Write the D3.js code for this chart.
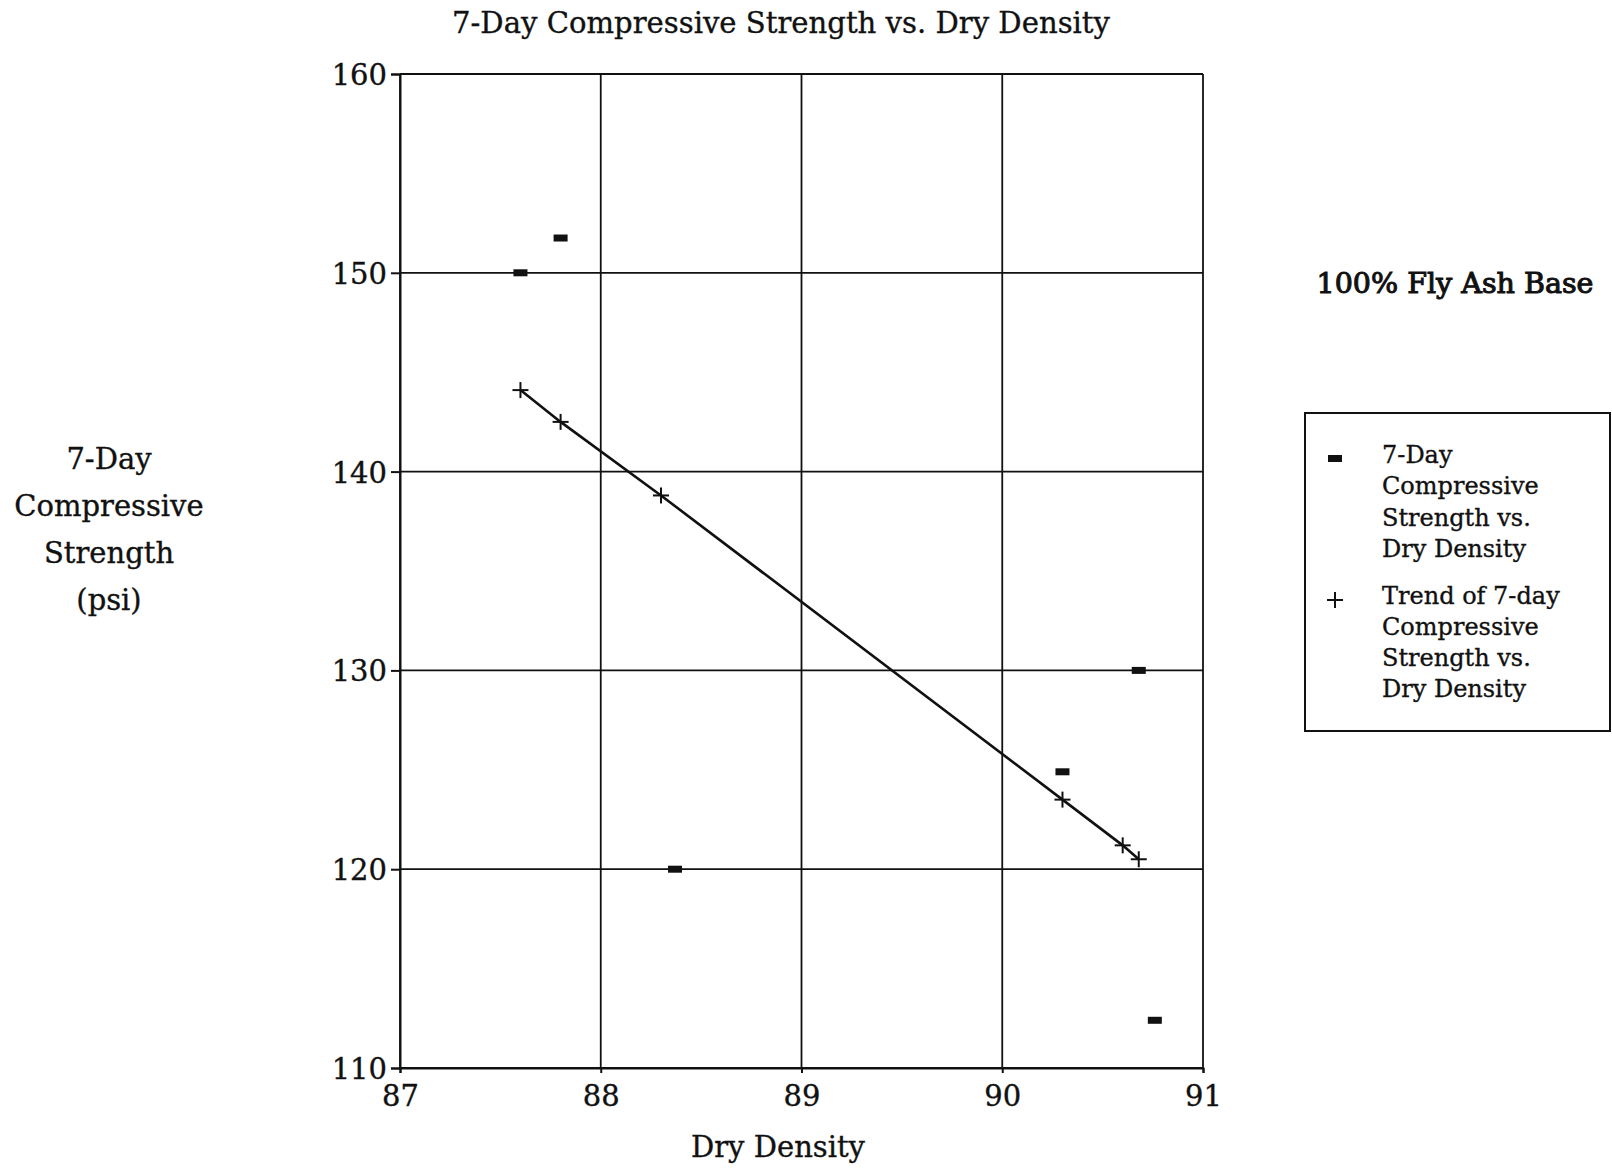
<!DOCTYPE html>
<html>
<head>
<meta charset="utf-8">
<script src="https://cdn.jsdelivr.net/npm/d3@7"></script>
<style>
    body { margin: 0; background: #fff; }
    svg text { font-family: "DejaVu Serif", "Liberation Serif", serif; fill: #111; stroke: #111; stroke-width: 0.35px; }
</style>
</head>
<body>
<svg id="chart" width="1612" height="1168"></svg>
<script>
// datos medidos (densidad seca vs resistencia a 7 dias)
var densidad = [87.6, 87.8, 88.37, 90.3, 90.68, 90.76];
var resistencia = [150, 151.75, 120, 124.9, 130, 112.4];

// puntos de la tendencia
var densidadTendencia = [87.6, 87.8, 88.3, 90.3, 90.6, 90.68];
var resistenciaTendencia = [144.1, 142.5, 138.8, 123.5, 121.2, 120.5];

var ticksX = [87, 88, 89, 90, 91];
var ticksY = [110, 120, 130, 140, 150, 160];

var tituloEjeY = ["7-Day", "Compressive", "Strength", "(psi)"];
var leyenda1 = ["7-Day", "Compressive", "Strength vs.", "Dry Density"];
var leyenda2 = ["Trend of 7-day", "Compressive", "Strength vs.", "Dry Density"];

var svg = d3.select("#chart");

var x = d3.scaleLinear().domain([87, 91]).range([400, 1203]);
var y = d3.scaleLinear().domain([110, 160]).range([1068, 74]);

// Rejilla
svg.append("g")
    .selectAll("line.gx")
    .data(ticksX)
    .enter().append("line")
    .attr("x1", d => x(d)).attr("x2", d => x(d))
    .attr("y1", y(160)).attr("y2", y(110))
    .style("stroke", "#111").style("stroke-width", 1.8);

svg.append("g")
    .selectAll("line.gy")
    .data(ticksY)
    .enter().append("line")
    .attr("x1", x(87)).attr("x2", x(91))
    .attr("y1", d => y(d)).attr("y2", d => y(d))
    .style("stroke", "#111").style("stroke-width", 1.8);

// Ejes
var ejeY = svg.append("g")
    .attr("transform", "translate(" + x(87) + ",0)")
    .call(d3.axisLeft(y).tickValues(ticksY).tickSize(9).tickPadding(4).tickFormat(d3.format("d")));
ejeY.select(".domain").style("stroke", "#111").style("stroke-width", 2);
ejeY.selectAll(".tick line").style("stroke", "#111").style("stroke-width", 2);
ejeY.selectAll("text").style("font-size", "29px").attr("dy", "0.36em");

var ejeX = svg.append("g")
    .attr("transform", "translate(0," + y(110) + ")")
    .call(d3.axisBottom(x).tickValues(ticksX).tickSize(5).tickPadding(12).tickFormat(d3.format("d")));
ejeX.select(".domain").style("stroke", "#111").style("stroke-width", 2);
ejeX.selectAll(".tick line").style("stroke", "#111").style("stroke-width", 2);
ejeX.selectAll("text").style("font-size", "29px");

// Linea de tendencia
var puntosT = densidadTendencia.map((d, i) => [d, resistenciaTendencia[i]]);
svg.append("path")
    .datum(puntosT)
    .attr("d", d3.line().x(d => x(d[0])).y(d => y(d[1])))
    .style("fill", "none")
    .style("stroke", "#111")
    .style("stroke-width", 2.6);

// Marcadores "+" de la tendencia
var cruces = svg.append("g").selectAll("g")
    .data(puntosT)
    .enter().append("g")
    .attr("transform", d => "translate(" + x(d[0]) + "," + y(d[1]) + ")");
cruces.append("line").attr("x1", -8).attr("x2", 8).attr("y1", 0).attr("y2", 0)
    .style("stroke", "#111").style("stroke-width", 2);
cruces.append("line").attr("x1", 0).attr("x2", 0).attr("y1", -8).attr("y2", 8)
    .style("stroke", "#111").style("stroke-width", 2);

// Marcadores de datos (rectangulos)
svg.append("g").selectAll("rect")
    .data(densidad)
    .enter().append("rect")
    .attr("x", d => x(d) - 7)
    .attr("y", (d, i) => y(resistencia[i]) - 3.5)
    .attr("width", 14)
    .attr("height", 7)
    .style("fill", "#111");

// Titulo
svg.append("text")
    .attr("x", 781).attr("y", 33)
    .attr("text-anchor", "middle")
    .attr("textLength", 658).attr("lengthAdjust", "spacingAndGlyphs")
    .style("font-size", "30px")
    .text("7-Day Compressive Strength vs. Dry Density");

// Titulo eje X
svg.append("text")
    .attr("x", 778).attr("y", 1157)
    .attr("text-anchor", "middle")
    .style("font-size", "29px")
    .text("Dry Density");

// Titulo eje Y
svg.append("g").selectAll("text")
    .data(tituloEjeY)
    .enter().append("text")
    .attr("x", 109)
    .attr("y", (d, i) => 469 + i * 47)
    .attr("text-anchor", "middle")
    .style("font-size", "29px")
    .text(d => d);

// Subtitulo
svg.append("text")
    .attr("x", 1455).attr("y", 293)
    .attr("text-anchor", "middle")
    .attr("textLength", 277).attr("lengthAdjust", "spacingAndGlyphs")
    .style("font-size", "27px")
    .style("stroke-width", "1px")
    .text("100% Fly Ash Base");

// Leyenda
svg.append("rect")
    .attr("x", 1305).attr("y", 413)
    .attr("width", 305).attr("height", 318)
    .style("fill", "none").style("stroke", "#111").style("stroke-width", 2);

svg.append("rect")
    .attr("x", 1328).attr("y", 455).attr("width", 14).attr("height", 7)
    .style("fill", "#111");
svg.append("line").attr("x1", 1327).attr("x2", 1343).attr("y1", 600).attr("y2", 600)
    .style("stroke", "#111").style("stroke-width", 2);
svg.append("line").attr("x1", 1335).attr("x2", 1335).attr("y1", 592).attr("y2", 608)
    .style("stroke", "#111").style("stroke-width", 2);

svg.append("g").selectAll("text")
    .data(leyenda1)
    .enter().append("text")
    .attr("x", 1382)
    .attr("y", (d, i) => 463 + i * 31.3)
    .style("font-size", "24px")
    .text(d => d);

svg.append("g").selectAll("text")
    .data(leyenda2)
    .enter().append("text")
    .attr("x", 1382)
    .attr("y", (d, i) => 604 + i * 31)
    .style("font-size", "24px")
    .text(d => d);
</script>
</body>
</html>
